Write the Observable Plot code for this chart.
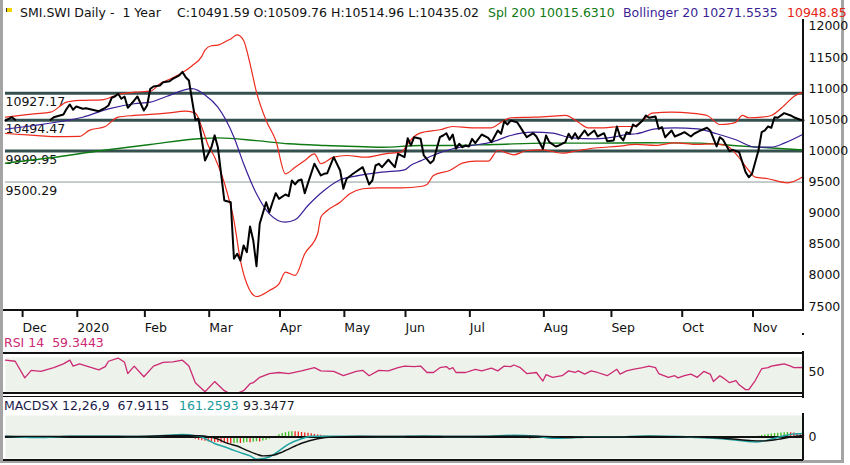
<!DOCTYPE html>
<html>
<head>
<meta charset="utf-8">
<script src="https://cdn.jsdelivr.net/npm/d3@7"></script>
<script src="https://cdn.jsdelivr.net/npm/@observablehq/plot@0.6"></script>
<style>
  body { margin: 0; background: #fff; }
  #wrap { position: relative; width: 850px; height: 465px; overflow: hidden; font-family: "DejaVu Sans", sans-serif; background: #fff; }
  .t { position: absolute; white-space: pre; line-height: 1; }
  .b { position: absolute; background: #111; }
</style>
</head>
<body>
<div id="wrap"></div>
<script>
// ---------------- DATA (trading-day number, value) ----------------
const closeSeries = [[0,10489],[2,10542],[3,10501],[4,null],[14,10501],[15,10542],[18,10586],[19,10677],[20,10747],[21,10661],[22,10714],[24,10677],[25,10687],[29,10639],[31,10693],[32,10730],[33,10854],[34,10875],[35,10918],[36,10838],[37,10875],[38,10693],[40,10811],[41,10875],[43,10650],[44,10730],[45,11000],[46,11036],[48,11052],[49,11105],[51,11121],[52,11160],[53,11185],[54,11213],[55,11270],[56,11185],[57,11132],[58,10811],[59,10501],[60,10517],[62,9847],[64,10060],[65,10250],[66,10060],[68,9204],[70,9176],[71,8267],[72,8347],[73,8240],[74,8481],[75,8373],[76,8786],[77,8561],[78,8148],[79,8829],[81,9176],[82,9016],[83,9176],[84,9321],[85,9231],[87,9300],[88,9273],[89,9525],[90,9461],[91,9525],[92,9541],[93,9321],[94,9482],[96,9794],[98,9606],[99,9633],[100,9643],[102,9900],[104,9686],[105,9392],[106,9553],[108,9633],[111,9739],[112,9606],[113,9461],[114,9525],[115,9766],[116,9794],[117,9739],[119,9858],[121,9739],[122,9954],[124,9900],[125,10205],[126,10088],[127,10221],[129,10195],[130,9927],[132,9803],[133,9847],[135,10221],[136,10248],[137,10285],[138,10179],[139,10264],[140,10035],[141,10115],[142,10060],[143,10088],[144,10072],[145,10195],[146,10125],[148,10264],[150,10211],[151,10141],[153,10329],[154,10276],[155,10478],[156,10425],[157,10489],[159,10462],[160,10382],[162,10221],[164,10285],[165,10232],[167,10035],[168,10248],[169,10141],[171,10072],[172,10088],[174,10141],[175,10276],[176,10195],[177,10285],[178,10195],[180,10329],[181,10248],[183,10329],[184,10232],[186,10285],[187,10157],[189,10168],[190,10393],[191,10232],[192,10168],[193,10301],[194,10276],[195,10425],[196,10393],[198,10489],[199,10570],[200,10533],[202,10554],[203,10356],[204,10382],[205,10221],[207,10329],[208,10232],[210,10276],[211,10301],[213,10232],[214,10276],[216,10329],[218,10372],[219,10329],[221,10072],[222,10221],[223,10179],[225,9996],[226,10018],[228,9980],[230,9659],[231,9578],[232,9633],[234,10007],[235,10301],[236,10329],[237,10393],[238,10372],[239,10542],[240,10533],[242,10607],[244,10570],[245,10542],[247,10501],[248,10492]];

const bollUpper = [[0,10542],[9,10597],[14,10623],[19,10784],[23,10811],[30,10822],[35,10907],[40,10944],[45,10960],[48,11079],[52,11176],[55,11260],[58,11370],[61,11520],[62,11620],[64,11690],[66,11700],[69,11775],[70,11800],[72,11866],[74,11775],[76,11400],[78,10944],[81,10489],[84,10168],[87,9633],[90,9739],[93,9847],[96,9954],[98,9794],[102,9900],[106,9927],[112,9900],[118,9954],[123,9980],[125,10115],[127,10232],[129,10290],[135,10340],[139,10393],[145,10372],[151,10372],[154,10462],[157,10533],[164,10542],[170,10559],[174,10570],[178,10462],[181,10372],[186,10372],[191,10393],[195,10393],[198,10489],[201,10607],[207,10623],[213,10607],[218,10570],[222,10425],[225,10436],[227,10462],[229,10570],[231,10533],[235,10542],[238,10570],[242,10730],[245,10875],[248,10949]];

const bollLower = [[0,10280],[9,10250],[15,10230],[23,10235],[26,10330],[31,10393],[35,10542],[40,10570],[45,10586],[50,10607],[56,10639],[59,10607],[61,10382],[63,10088],[65,9900],[69,9311],[71,8882],[73,8240],[75,7865],[78,7661],[82,7758],[85,7865],[87,8052],[90,7999],[93,8347],[97,8669],[98,8936],[100,9043],[104,9176],[107,9311],[111,9392],[116,9408],[123,9408],[129,9429],[131,9461],[133,9606],[138,9686],[142,9803],[146,9835],[150,9835],[153,10007],[158,9938],[162,10007],[167,10018],[173,9964],[178,10007],[184,10051],[190,10072],[196,10104],[202,10088],[208,10131],[215,10104],[220,10115],[224,10088],[227,9954],[231,9686],[233,9578],[237,9553],[243,9488],[248,9589]];

const bollMiddle = [[0,10350],[9,10409],[19,10489],[24,10542],[32,10677],[40,10758],[45,10784],[50,10875],[58,11000],[62,10900],[66,10703],[71,10221],[74,9794],[78,9311],[82,8990],[87,8855],[90,8893],[94,9123],[99,9364],[104,9536],[110,9606],[117,9659],[124,9697],[126,9770],[129,9840],[132,9911],[139,10035],[145,10088],[151,10141],[157,10248],[164,10301],[170,10285],[176,10211],[183,10195],[189,10221],[193,10264],[196,10276],[202,10356],[208,10372],[215,10356],[221,10276],[227,10179],[233,10060],[238,10060],[242,10125],[248,10272]];

const sma200 = [[0,9803],[14,9890],[30,10007],[45,10104],[61,10200],[66,10210],[78,10165],[88,10115],[99,10088],[109,10072],[117,10060],[129,10088],[137,10088],[152,10104],[168,10125],[183,10125],[200,10131],[216,10125],[226,10088],[237,10051],[248,10016]];

const levels = [10927.17, 10494.47, 9999.95, 9500.29];

const rsi14 = [[0,73],[3,71],[6,40],[8,54],[11,52],[15,59],[18,66],[20,73],[21,62],[23,66],[29,55],[31,61],[32,71],[35,77],[37,69],[38,48],[40,62],[43,42],[46,62],[49,69],[52,70],[55,73],[57,62],[59,31],[62,14],[65,33],[68,16],[69,13],[72,11],[74,16],[76,29],[77,31],[79,41],[82,48],[85,50],[88,48],[92,53],[96,59],[98,53],[102,52],[105,44],[109,52],[111,54],[113,44],[116,54],[119,53],[122,59],[124,62],[127,61],[129,62],[131,50],[133,50],[135,59],[137,61],[138,56],[139,59],[140,50],[143,50],[146,56],[148,53],[151,58],[153,53],[155,62],[157,61],[158,64],[160,59],[162,48],[165,50],[167,34],[168,46],[170,41],[173,44],[175,53],[177,50],[178,53],[180,47],[182,53],[184,50],[187,44],[190,56],[191,47],[193,53],[195,56],[198,59],[200,62],[202,59],[203,48],[206,41],[208,44],[209,40],[211,44],[213,47],[215,41],[217,52],[219,47],[220,33],[222,44],[223,40],[225,31],[227,35],[228,27],[230,18],[231,18],[233,35],[235,57],[237,59],[238,62],[240,64],[242,66],[244,62],[245,59],[248,59.34]];

const macdLine = [[0,40],[10,-20],[20,30],[30,40],[40,20],[50,80],[55,120],[59,60],[61,0],[63,-150],[65,-300],[68,-450],[71,-620],[74,-780],[76,-880],[78,-1030],[80,-1000],[82,-930],[85,-640],[88,-330],[92,-80],[95,30],[100,40],[110,30],[120,20],[130,50],[140,20],[150,40],[158,80],[165,40],[170,-60],[175,-40],[180,-10],[190,10],[200,50],[210,20],[215,-20],[220,-60],[225,-120],[230,-200],[233,-230],[236,-180],[240,-20],[244,120],[248,161.26]];

const signalLine = [[0,30],[20,20],[40,30],[55,70],[60,60],[63,20],[66,-100],[69,-300],[72,-420],[75,-620],[78,-800],[80,-880],[83,-850],[86,-700],[88,-560],[92,-290],[97,-80],[102,0],[110,20],[130,30],[150,30],[165,40],[175,-20],[190,0],[200,30],[215,0],[225,-80],[232,-170],[236,-180],[240,-110],[244,0],[248,67.91]];

// histogram, one value per trading day 0..248
const macdHist = [
-30,-50,-60,-50,-40,-30,-50,-70,-60,-40,
-30,-40,-60,-50,-30,-20,-40,-60,-50,-30,
-20,-40,-60,-70,-50,-30,-40,-60,-50,-30,
-20,-40,-60,-50,-30,-40,-60,-70,-50,-30,
-40,-60,-50,-30,-20,-40,-60,-50,-30,-20,
-40,-50,-30,-20,-40,-60,-50,-40,-70,-110,
-150,-180,-200,-220,-240,-250,-260,-280,-290,-300,
-310,-300,-290,-300,-280,-260,-270,-240,-220,-230,
-190,-150,-100,-40,30,100,160,200,230,250,
240,230,210,190,170,150,120,100,80,60,
40,30,20,10,-10,-30,-40,-30,-20,-10,
-30,-50,-40,-20,-10,-30,-50,-40,-20,-10,
-30,-50,-60,-40,-20,-30,-50,-40,-20,-10,
-30,-50,-40,-20,-10,-30,-50,-60,-40,-20,
-30,-50,-40,-20,-10,-30,-50,-40,-20,-10,
-30,-50,-40,-20,-30,-50,-60,-40,-20,-10,
-30,-50,-70,-90,-80,-60,-40,-60,-80,-70,
-50,-30,-40,-60,-50,-30,-20,-40,-50,-30,
-20,-40,-50,-30,-20,-40,-60,-50,-30,-20,
-40,-50,-30,-20,-40,-60,-50,-30,-20,-40,
-50,-30,-20,-40,-60,-50,-30,-40,-60,-50,
-30,-40,-60,-70,-50,-30,-50,-70,-80,-60,
-70,-90,-100,-80,-90,-100,-80,-60,-70,-50,
-30,-40,-20,10,40,70,90,120,140,160,
180,190,200,210,200,190,150,120,93];

const monthStartDay = [5, 22, 43, 63, 85, 105, 124, 144, 167, 188, 210, 232];
const monthLabels = ["Dec", "2020", "Feb", "Mar", "Apr", "May", "Jun", "Jul", "Aug", "Sep", "Oct", "Nov"];
const priceTicks = [7500, 8000, 8500, 9000, 9500, 10000, 10500, 11000, 11500, 12000];

// ---------------- helpers ----------------
const rows = s => s.map(([d, v]) => ({d, v: v == null ? NaN : v}));
const histRows = macdHist.map((v, i) => ({d: i, v, up: i === 0 ? v >= 0 : v >= macdHist[i - 1]}));
const lastDay = 248;
const FONT = "DejaVu Sans";
const svgStyle = {background: "transparent", overflow: "visible", fontFamily: FONT, fontSize: "12.5px", color: "#111"};
const RED = "#ec2a1d", PURPLE = "#3a1f96", GREEN = "#0f7a14", SLATE = "#34514f";

const wrap = document.getElementById("wrap");
function place(el, top) { el.style.position = "absolute"; el.style.left = "0px"; el.style.top = top + "px"; wrap.appendChild(el); }
function box(left, top, w, h, color) { const d = document.createElement("div"); d.className = "b"; Object.assign(d.style, {left: left + "px", top: top + "px", width: w + "px", height: h + "px"}); if (color) d.style.background = color; wrap.appendChild(d); return d; }
function label(text, left, top, size, color) { const s = document.createElement("div"); s.className = "t"; s.textContent = text; Object.assign(s.style, {left: left + "px", top: top + "px", fontSize: size + "px", color}); wrap.appendChild(s); return s; }

// outer frame
const frame = document.createElement("div");
Object.assign(frame.style, {position: "absolute", left: "0px", top: "0px", width: "838px", height: "460px", borderLeft: "3px solid #a4a4a4", borderRight: "3px solid #a4a4a4", borderBottom: "3px solid #a4a4a4"});
wrap.appendChild(frame);

// ---------------- main price panel ----------------
const mainChart = Plot.plot({
  width: 850, height: 336,
  marginTop: 20, marginBottom: 26, marginLeft: 5, marginRight: 47,
  x: {domain: [0, lastDay], label: null},
  y: {domain: [7436, 12096], label: null},
  style: svgStyle,
  marks: [
    Plot.text(levels, {x: () => 0, y: d => d, text: d => d.toFixed(2), textAnchor: "start", dy: 9, fontSize: 12.5, fill: "#111"}),
    Plot.ruleY(levels.slice(0, 3), {stroke: SLATE, strokeWidth: 3}),
    Plot.ruleY(levels.slice(3), {stroke: "#8c9c9c", strokeWidth: 1}),
    Plot.line(rows(sma200), {x: "d", y: "v", stroke: GREEN, strokeWidth: 1.4, curve: "monotone-x"}),
    Plot.line(rows(bollUpper), {x: "d", y: "v", stroke: RED, strokeWidth: 1.2, curve: "monotone-x"}),
    Plot.line(rows(bollLower), {x: "d", y: "v", stroke: RED, strokeWidth: 1.2, curve: "monotone-x"}),
    Plot.line(rows(bollMiddle), {x: "d", y: "v", stroke: PURPLE, strokeWidth: 1.2, curve: "monotone-x"}),
    Plot.line(rows(closeSeries), {x: "d", y: "v", stroke: "#000", strokeWidth: 2}),
    Plot.axisY({anchor: "right", ticks: priceTicks, tickFormat: d => String(d), tickSize: 0, tickPadding: 5, fontSize: 12.5, label: null}),
    Plot.axisX({ticks: monthStartDay, tickFormat: (d, i) => monthLabels[i], tickSize: 7, tickPadding: 6, textAnchor: "start", dx: 1, strokeWidth: 2, fontSize: 12.5, label: null})
  ]
});
place(mainChart, 0);
box(801.5, 19, 2, 292);   // right axis line
box(3, 309, 800, 2);      // bottom axis line

// ---------------- RSI panel ----------------
const rsiChart = Plot.plot({
  width: 850, height: 48,
  marginTop: 12, marginBottom: 2, marginLeft: 5, marginRight: 47,
  x: {domain: [0, lastDay], axis: null, label: null},
  y: {domain: [14.5, 78], label: null},
  style: svgStyle,
  marks: [
    Plot.frame({fill: "#edf2ea", stroke: null}),
    Plot.line(rows(rsi14), {x: "d", y: "v", stroke: "#cc2a74", strokeWidth: 1.3}),
    Plot.axisY({anchor: "right", ticks: [50], tickFormat: d => String(d), tickSize: 0, tickPadding: 5, fontSize: 12.5, label: null})
  ]
});
place(rsiChart, 345);
box(3, 352.3, 800, 2.2);
box(3, 392, 800, 2);
box(3, 396, 800, 1.4);
box(801.5, 351, 2, 46);
box(801.5, 333, 2, 2);
box(801.5, 396, 2, 2);

// ---------------- MACD panel ----------------
const macdChart = Plot.plot({
  width: 850, height: 62,
  marginTop: 15, marginBottom: 4, marginLeft: 5, marginRight: 47,
  x: {domain: [0, lastDay], axis: null, label: null},
  y: {domain: [-1000, 1000], label: null},
  style: svgStyle,
  marks: [
    Plot.frame({fill: "#edf2ea", stroke: null}),
    Plot.ruleX(histRows.filter(r => !r.up), {x: "d", y1: 0, y2: "v", stroke: "#f0221a", strokeWidth: 1.3}),
    Plot.ruleX(histRows.filter(r => r.up), {x: "d", y1: 0, y2: "v", stroke: "#3cbf1e", strokeWidth: 1.3}),
    Plot.ruleY([0], {stroke: "#111", strokeWidth: 2}),
    Plot.line(rows(macdLine), {x: "d", y: "v", stroke: "#1fa2a2", strokeWidth: 1.5, curve: "monotone-x"}),
    Plot.line(rows(signalLine), {x: "d", y: "v", stroke: "#111", strokeWidth: 1.4, curve: "monotone-x"}),
    Plot.axisY({anchor: "right", ticks: [0], tickFormat: d => String(d), tickSize: 0, tickPadding: 5, fontSize: 12.5, label: null})
  ]
});
place(macdChart, 400);
box(801.5, 413, 2, 47);
box(3, 458.5, 800, 2);

// ---------------- texts ----------------
// title row
const flag = box(6, 8, 5, 4, "#f2d400");
flag.style.borderLeft = "1px solid #333";
label("SMI.SWI Daily -  1 Year", 20, 6.8, 12.5, "#111");
label("C:10491.59 O:10509.76 H:10514.96 L:10435.02", 177, 6.8, 12.5, "#111");
label("Spl 200 10015.6310", 488, 6.8, 12.5, GREEN);
label("Bollinger 20 10271.5535", 623, 6.8, 12.5, PURPLE);
label("10948.85", 787, 6.8, 12.5, "#e42313");

// indicator captions
label("RSI 14  59.3443", 4, 336.7, 12.5, "#cc2a74");
label("MACDSX 12,26,9  67.9115", 4, 400.1, 12.5, "#1b1b4a");
label("161.2593", 179, 400.1, 12.5, "#1a9a9a");
label("93.3477", 243, 400.1, 12.5, "#1b1b2a");
</script>
</body>
</html>
